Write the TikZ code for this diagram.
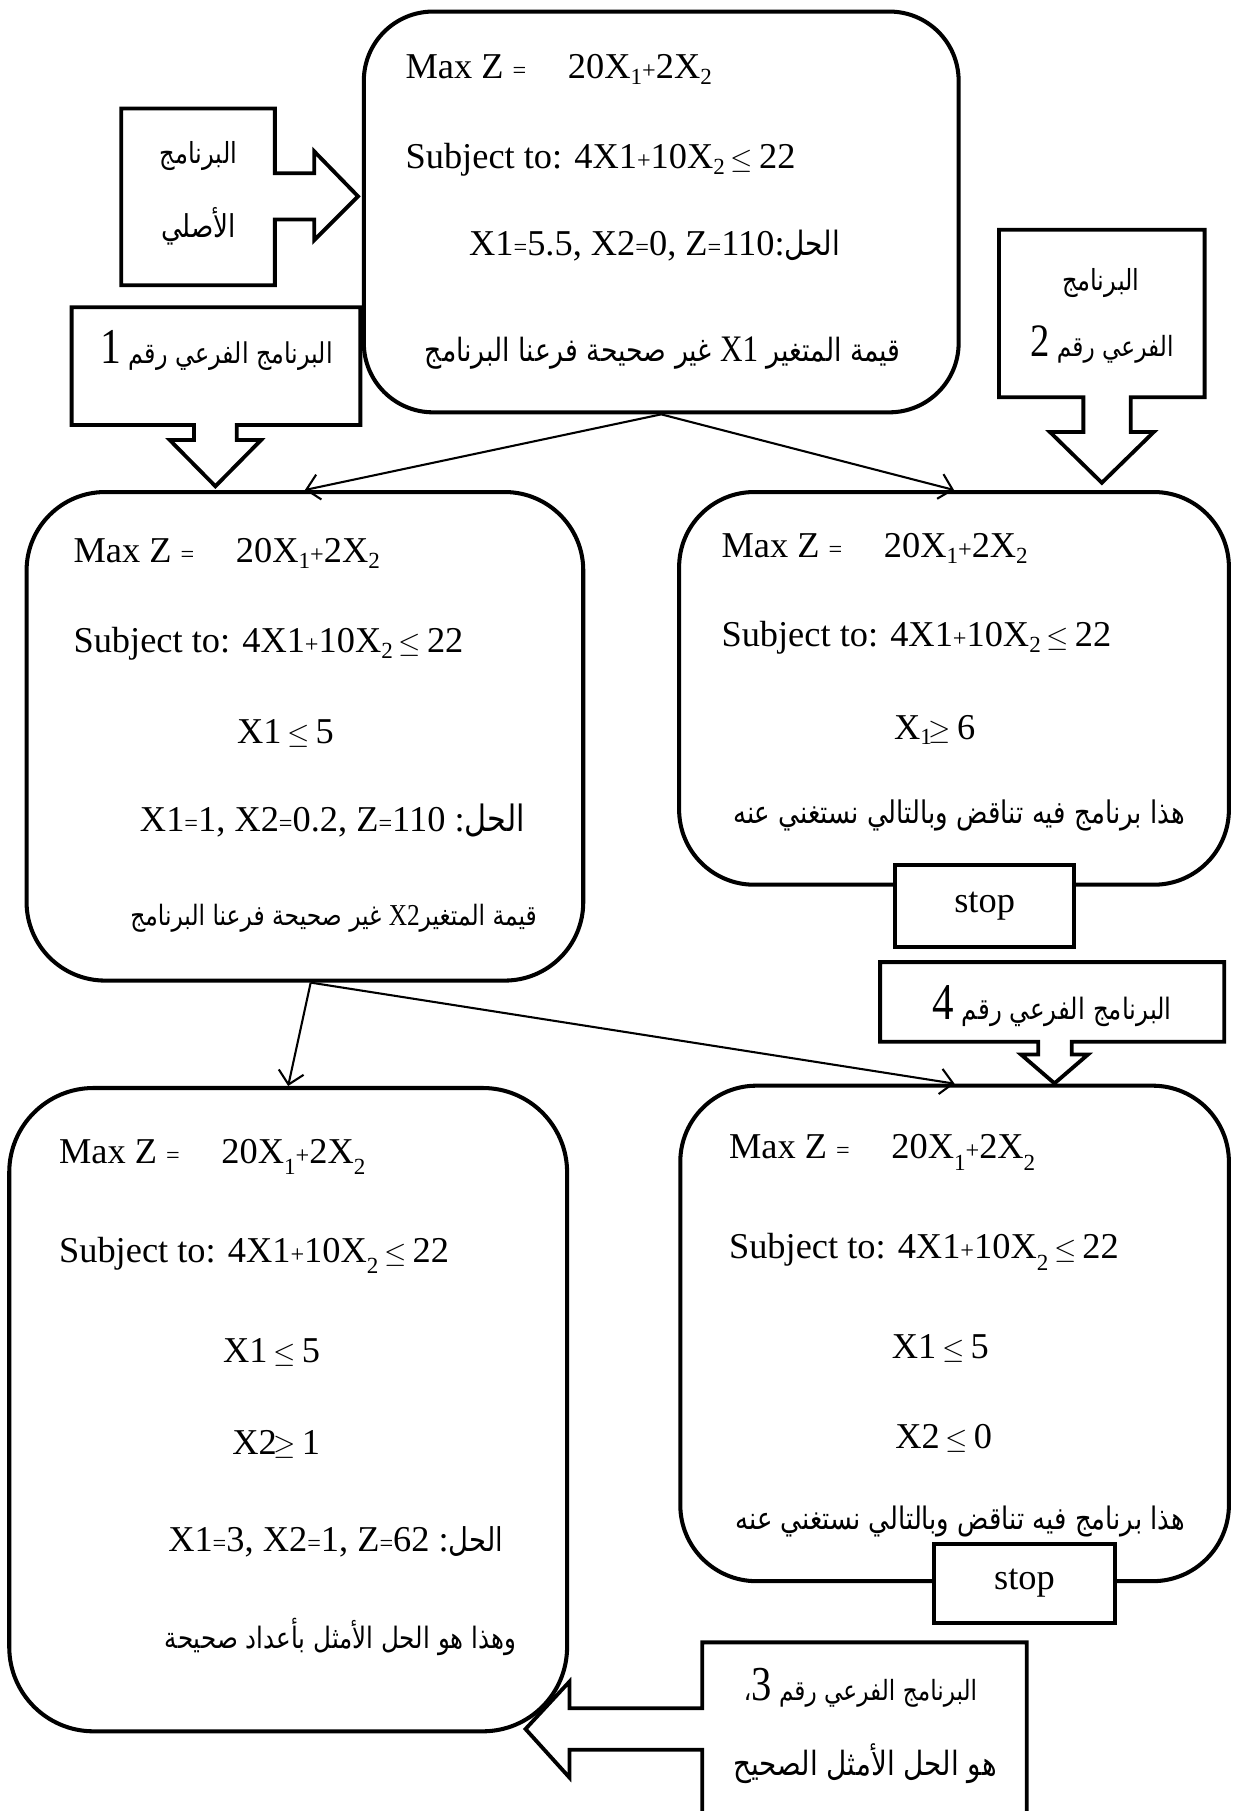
\documentclass[tikz,border=0pt]{standalone}
\usepackage{fontspec}
\usepackage{graphicx}
\setmainfont{Liberation Serif}
\newfontfamily\arabicfont[Script=Arabic]{DejaVu Sans}
\TeXXeTstate=1
\usetikzlibrary{arrows.meta}

% Arabic text set to a given width, slightly heightened
\newcommand\fitar[2]{\scalebox{1}[1.2]{\resizebox{#1}{!}{\fontsize{24}{28}\selectfont\arabicfont #2}}}
% Latin pieces inside Arabic text (optional size)
\newcommand\latn[2][26]{{\fontsize{#1}{#1}\selectfont\rmfamily #2}}
% small equals and plus signs
\newcommand\xeq{{\fontsize{21}{21}\selectfont=}}
\newcommand\xpl{{\fontsize{21}{21}\selectfont+}}
% relations with a flat bar
\newcommand\xle{$\mkern-2mu\leq\mkern-2mu$}
\newcommand\xge{$\mkern-2mu\geq\mkern-2mu$}
% subscripts: shallow and deep
\newcommand\xsub[1]{\raisebox{-5pt}{\fontsize{20}{20}\selectfont #1}}
\newcommand\xdeep[1]{\raisebox{-10pt}{\fontsize{20}{20}\selectfont #1}}

\begin{document}
\begin{tikzpicture}[x=1pt,y=-1pt,
  bx/.style={draw, line width=3.5pt, inner sep=0pt},
  tx/.style={inner sep=0pt, font=\fontsize{31.5}{36}\selectfont},
  ttl/.style={tx, anchor=base west},
  tar/.style={tx, anchor=base east},
  captxt/.style={inner sep=0pt, anchor=center},
  arrowbox/.style={draw, line width=3.3pt, fill=white, line join=miter},
  stopbox/.style={draw, line width=3.5pt, fill=white, inner sep=0pt, font=\fontsize{31.5}{36}\selectfont},
  conn/.style={line width=1.8pt, -{Straight Barb[length=11pt,width=22pt,line width=1.8pt]}}]

\useasboundingbox (0,0) rectangle (1067,1568);

% ---------- program boxes ----------
\node[bx, rounded corners=60pt, minimum width=515pt, minimum height=347pt] (B0) at (572.5,183.5) {};
\node[bx, rounded corners=68pt, minimum width=482pt, minimum height=423pt] (B1) at (264,637.5) {};
\node[bx, rounded corners=65pt, minimum width=476pt, minimum height=340pt] (B2) at (826,596) {};
\node[bx, rounded corners=73pt, minimum width=483pt, minimum height=557pt] (B3) at (249.5,1220.5) {};
\node[bx, rounded corners=66pt, minimum width=475pt, minimum height=429pt] (B4) at (826.5,1154.5) {};

% ---------- original program ----------
\node[ttl] (t0a) at (351,68) {Max Z \xeq\hspace{36pt}20X\xsub{1}\xpl 2X\xsub{2}};
\node[ttl] (t0b) at (351,146) {Subject to: 4X1\xpl 10X\xsub{2} \xle\ 22};
\node[ttl] (t0c) at (406,221) {X1\xeq 5.5, X2\xeq 0, Z\xeq 110:\fitar{48pt}{\beginR الحل\endR}};
\node[tar] (t0d) at (780,313) {\fitar{412pt}{\beginR قيمة المتغير \beginL\latn[28]{X1}\endL{} غير صحيحة فرعنا البرنامج\endR}};

% ---------- sub-program 1 ----------
\node[ttl] (t1a) at (63.5,487) {Max Z \xeq\hspace{36pt}20X\xsub{1}\xpl 2X\xsub{2}};
\node[ttl] (t1b) at (63.5,565) {Subject to: 4X1\xpl 10X\xsub{2} \xle\ 22};
\node[ttl] (t1c) at (205,644) {X1 \xle\ 5};
\node[ttl] (t1d) at (121,720) {X1\xeq 1, X2\xeq 0.2, Z\xeq 110 :\fitar{52pt}{\beginR الحل\endR}};
\node[tar] (t1e) at (465,801) {\fitar{352pt}{\beginR قيمة المتغير\beginL\latn{X2}\endL{} غير صحيحة فرعنا البرنامج\endR}};

% ---------- sub-program 2 ----------
\node[ttl] (t2a) at (624.5,483) {Max Z \xeq\hspace{36pt}20X\xsub{1}\xpl 2X\xsub{2}};
\node[ttl] (t2b) at (624.5,560) {Subject to: 4X1\xpl 10X\xsub{2} \xle\ 22};
\node[ttl] (t2c) at (774,640) {X\xsub{1}\xge\ 6};
\node[tar] (t2d) at (1026,713) {\fitar{391pt}{\beginR هذا برنامج فيه تناقض وبالتالي نستغني عنه\endR}};

% ---------- sub-program 3 ----------
\node[ttl] (t3a) at (51,1007) {Max Z \xeq\hspace{36pt}20X\xdeep{1}\xpl 2X\xdeep{2}};
\node[ttl] (t3b) at (51,1093) {Subject to: 4X1\xpl 10X\xdeep{2} \xle\ 22};
\node[ttl] (t3c) at (193,1180) {X1 \xle\ 5};
\node[ttl] (t3d) at (201,1259) {X2\xge\ 1};
\node[ttl] (t3e) at (145.5,1343) {X1\xeq 3, X2\xeq 1, Z\xeq 62 :\fitar{47pt}{\beginR الحل\endR}};
\node[tar] (t3f) at (447,1427) {\fitar{304pt}{\beginR وهذا هو الحل الأمثل بأعداد صحيحة\endR}};

% ---------- sub-program 4 ----------
\node[ttl] (t4a) at (631,1003) {Max Z \xeq\hspace{36pt}20X\xdeep{1}\xpl 2X\xdeep{2}};
\node[ttl] (t4b) at (631,1090) {Subject to: 4X1\xpl 10X\xdeep{2} \xle\ 22};
\node[ttl] (t4c) at (772,1176) {X1 \xle\ 5};
\node[ttl] (t4d) at (775,1254) {X2 \xle\ 0};
\node[tar] (t4e) at (1026,1324) {\fitar{389pt}{\beginR هذا برنامج فيه تناقض وبالتالي نستغني عنه\endR}};

% ---------- stop marks ----------
\node[stopbox, minimum width=155pt, minimum height=71pt] (S1) at (852.5,784.5) {stop};
\node[stopbox, minimum width=156pt, minimum height=68pt] (S2) at (887,1371) {stop};

% ---------- block-arrow labels ----------
\draw[arrowbox] (105,94) -- (238,94) -- (238,150) -- (272,150) -- (272,131) -- (310,170)
  -- (272,208) -- (272,190) -- (238,190) -- (238,247) -- (105,247) -- cycle;
\node[captxt] (c0a) at (172,135) {\fitar{67pt}{\beginR البرنامج\endR}};
\node[captxt] (c0b) at (172,196) {\fitar{65pt}{\beginR الأصلي\endR}};

\draw[arrowbox] (62,266) -- (312,266) -- (312,368) -- (205,368) -- (205,381) -- (226,381)
  -- (186.5,421) -- (147,381) -- (168,381) -- (168,368) -- (62,368) -- cycle;
\node[captxt] (c1) at (187.5,303) {\fitar{201pt}{\beginR البرنامج الفرعي رقم \beginL\latn[42]{1}\endL\endR}};

\draw[arrowbox] (865,199) -- (1043,199) -- (1043,344) -- (979,344) -- (979,374) -- (999,374)
  -- (954,418) -- (909,374) -- (938,374) -- (938,344) -- (865,344) -- cycle;
\node[captxt] (c2a) at (953,245) {\fitar{67pt}{\beginR البرنامج\endR}};
\node[captxt] (c2b) at (954,298) {\fitar{124pt}{\beginR الفرعي رقم \beginL\latn[40]{2}\endL\endR}};

\draw[arrowbox] (762,833) -- (1060,833) -- (1060,902) -- (928,902) -- (928,913) -- (942,913)
  -- (913,938) -- (884,913) -- (899,913) -- (899,902) -- (762,902) -- cycle;
\node[captxt] (c4) at (911,871) {\fitar{207pt}{\beginR البرنامج الفرعي رقم \beginL\latn[42]{4}\endL\endR}};

\draw[arrowbox] (889,1585) -- (608,1585) -- (608,1515) -- (493,1515) -- (493,1539) -- (455,1497)
  -- (493,1456) -- (493,1479) -- (608,1479) -- (608,1422) -- (889,1422) -- cycle;
\node[captxt] (c3a) at (745,1461) {\fitar{202pt}{\beginR البرنامج الفرعي رقم \beginL\latn[42]{3}\endL{}،\endR}};
\node[captxt] (c3b) at (749,1527) {\fitar{228pt}{\beginR هو الحل الأمثل الصحيح\endR}};

% ---------- branching connectors ----------
\draw[conn] (B0.south) -- (B1.north);
\draw[conn] (B0.south) -- (B2.north);
\draw[conn] ([xshift=5pt]B1.south) -- (B3.north);
\draw[conn] ([xshift=5pt]B1.south) -- (B4.north);

\end{tikzpicture}
\end{document}
